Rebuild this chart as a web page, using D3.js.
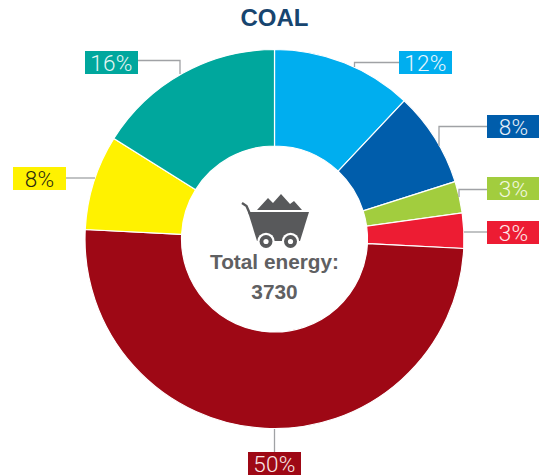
<!DOCTYPE html>
<html><head><meta charset="utf-8">
<script src="https://cdn.jsdelivr.net/npm/d3@7"></script>
<style>html,body{margin:0;padding:0;background:#fff}svg{display:block}</style>
</head><body><svg id="c" width="539" height="476"></svg>
<script>
const categories = ["Blue 1","Blue 2","Green","Red","Dark red","Yellow","Teal"];
const values = [12.0,8.1,2.7,3.0,50.0,8.1,16.1];
const labels = ["12%","8%","3%","3%","50%","8%","16%"];
const colors = ["#00aeef","#005dab","#a2cd3e","#ed1c33","#9e0815","#fff200","#00a79d"];
const textColors = ["#e8f6fd","#e8f0f8","#f2f8e0","#fde8ea","#f8e6e6","#2a2a10","#e4f5f3"];
const title = "COAL";
const centerLines = ["Total energy:","3730"];

const cx=274.5, cy=239, R=189.5, r=93;
const svg=d3.select("#c");
svg.append("text").attr("x",274.5).attr("y",25.5).attr("text-anchor","middle")
  .attr("font-family","Liberation Sans").attr("font-weight","700").attr("font-size",24)
  .attr("fill","#17456f").text(title);

const pie=d3.pie().sort(null).value(d=>d);
const arc=d3.arc().innerRadius(r).outerRadius(R);
const g=svg.append("g").attr("transform",`translate(${cx},${cy})`);
g.selectAll("path").data(pie(values)).join("path").attr("d",arc)
  .attr("fill",(d,i)=>colors[i]).attr("stroke","#fff").attr("stroke-width",1.2);

const boxes=[[399,51],[487,115],[487,177],[487,221],[248,452],[13,167],[85,51]];
const leaders=[
 [[399,62.5],[354.5,62.5],[354.5,67]],
 [[487,126.5],[439,126.5],[439,146]],
 [[487,189.5],[459,189.5],[459,197]],
 [[487,232],[464,232]],
 [[274.5,429],[274.5,452]],
 [[66,178],[95,178]],
 [[138,60.5],[180,60.5],[180,74]]
];
const line=d3.line();
svg.selectAll("path.l").data(leaders).join("path").attr("class","l")
  .attr("d",line).attr("fill","none").attr("stroke","#a0a2a5").attr("stroke-width",1.3);
const lab=svg.selectAll("g.b").data(labels).join("g").attr("class","b")
  .attr("transform",(d,i)=>`translate(${boxes[i][0]},${boxes[i][1]})`);
lab.append("rect").attr("width",53).attr("height",23).attr("fill",(d,i)=>colors[i]);
lab.append("text").attr("x",26.5).attr("y",19.5).attr("text-anchor","middle")
  .attr("font-family","Roboto").attr("font-weight",300).attr("font-size",22.5).attr("letter-spacing",0.3)
  .attr("fill",(d,i)=>textColors[i]).text(d=>d);

// cart icon
const ic=svg.append("g").attr("fill","#58595b");
ic.append("path").attr("d","M257 210 L268 198 L273 203 L281 194 L290 204 L294 201 L302 210 Z");
ic.append("path").attr("d","M248 212 L309 212 L300 241 L257 241 Z");
ic.append("path").attr("d","M250 214 L246.5 206 L242 203").attr("fill","none").attr("stroke","#58595b").attr("stroke-width",2.4);
[266,290.5].forEach(x=>{
  ic.append("circle").attr("cx",x).attr("cy",241.5).attr("r",8.7).attr("fill","#fff");
  ic.append("circle").attr("cx",x).attr("cy",241.5).attr("r",6.5).attr("fill","#58595b");
  ic.append("circle").attr("cx",x).attr("cy",241.5).attr("r",2.6).attr("fill","#fff");
});
svg.selectAll("text.c").data(centerLines).join("text").attr("class","c")
  .attr("x",274.5).attr("y",(d,i)=>i?299:269).attr("text-anchor","middle")
  .attr("font-family","Liberation Sans").attr("font-weight",700).attr("font-size",20.8)
  .attr("fill","#5f6062").text(d=>d);
</script></body></html>
